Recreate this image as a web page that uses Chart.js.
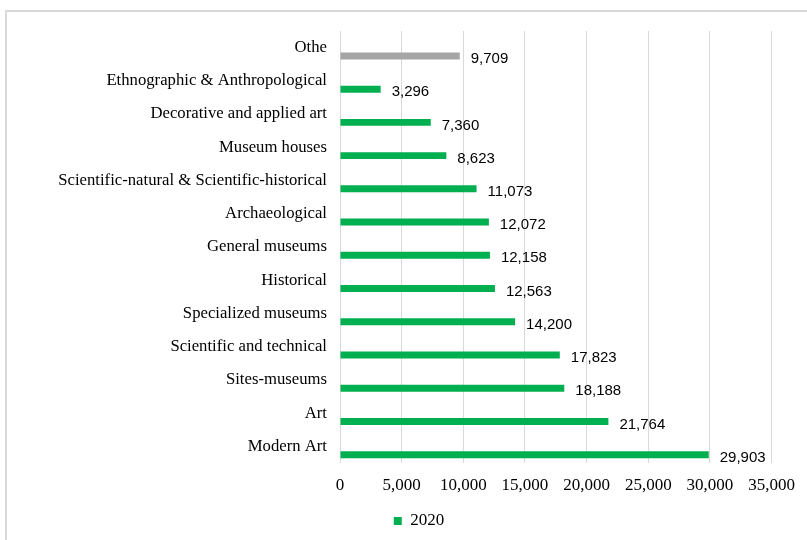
<!DOCTYPE html>
<html>
<head>
<meta charset="utf-8">
<script src="https://cdn.jsdelivr.net/npm/chart.js@4"></script>
<style>
  html, body { margin: 0; padding: 0; background: #fff; overflow: hidden; }
  #wrap { position: relative; width: 807px; height: 540px; }
  #frame { position: absolute; left: 5px; top: 10px; width: 900px; height: 700px; border: 2px solid #d9d9d9; }
  canvas { position: absolute; left: 0; top: 0; }
</style>
</head>
<body>
<div id="wrap">
  <div id="frame"></div>
  <canvas id="chart" width="807" height="540"></canvas>
</div>
<script>
const categories = [
  'Othe',
  'Ethnographic & Anthropological',
  'Decorative and applied art',
  'Museum houses',
  'Scientific-natural & Scientific-historical',
  'Archaeological',
  'General museums',
  'Historical',
  'Specialized museums',
  'Scientific and technical',
  'Sites-museums',
  'Art',
  'Modern Art'
];
const values2020 = [9709, 3296, 7360, 8623, 11073, 12072, 12158, 12563, 14200, 17823, 18188, 21764, 29903];
const xTicks = [0, 5000, 10000, 15000, 20000, 25000, 30000, 35000];

const green = '#00B050';
const gray = '#A5A5A5';
const barColors = categories.map(c => c === 'Othe' ? gray : green);
const serif = '"Liberation Serif", "Times New Roman", serif';

// value labels to the right of each bar
const valueLabels = {
  id: 'valueLabels',
  afterDatasetsDraw(chart) {
    const ctx = chart.ctx;
    const meta = chart.getDatasetMeta(1);
    ctx.save();
    ctx.font = '15px "Liberation Sans", Arial, sans-serif';
    ctx.fillStyle = '#000';
    ctx.textAlign = 'left';
    ctx.textBaseline = 'middle';
    meta.data.forEach((bar, i) => {
      ctx.fillText(values2020[i].toLocaleString('en-US'), bar.x + 11, bar.y + 3);
    });
    ctx.restore();
  }
};

new Chart(document.getElementById('chart').getContext('2d'), {
  type: 'bar',
  data: {
    labels: categories,
    datasets: [
      { label: '', data: categories.map(() => null), backgroundColor: 'rgba(0,0,0,0)' },
      { label: '2020', data: values2020, backgroundColor: barColors }
    ]
  },
  options: {
    indexAxis: 'y',
    responsive: false,
    animation: false,
    categoryPercentage: 1,
    barPercentage: 0.42,
    layout: { padding: { left: 38, right: 7, top: 31, bottom: 0.5 } },
    scales: {
      x: {
        min: 0,
        max: 35000,
        afterBuildTicks(scale) { scale.ticks = xTicks.map(v => ({ value: v })); },
        afterFit(scale) { scale.height = 39.5; },
        grid: { color: '#d9d9d9', lineWidth: 1, drawTicks: false },
        border: { display: false },
        ticks: {
          padding: 12,
          color: '#000',
          font: { family: serif, size: 17 },
          callback: v => v.toLocaleString('en-US')
        }
      },
      y: {
        afterFit(scale) { scale.width = 302; },
        grid: { display: false, drawTicks: false },
        border: { display: false },
        ticks: {
          padding: 13,
          color: '#000',
          font: { family: serif, size: 16.7 }
        }
      }
    },
    plugins: {
      tooltip: { enabled: false },
      legend: {
        position: 'bottom',
        labels: {
          boxWidth: 8,
          boxHeight: 8,
          color: '#000',
          font: { family: serif, size: 17 },
          generateLabels: chart => [{
            text: '2020', fillStyle: green, strokeStyle: green, lineWidth: 0, datasetIndex: 1, hidden: false
          }]
        }
      }
    }
  },
  plugins: [valueLabels]
});
</script>
</body>
</html>
